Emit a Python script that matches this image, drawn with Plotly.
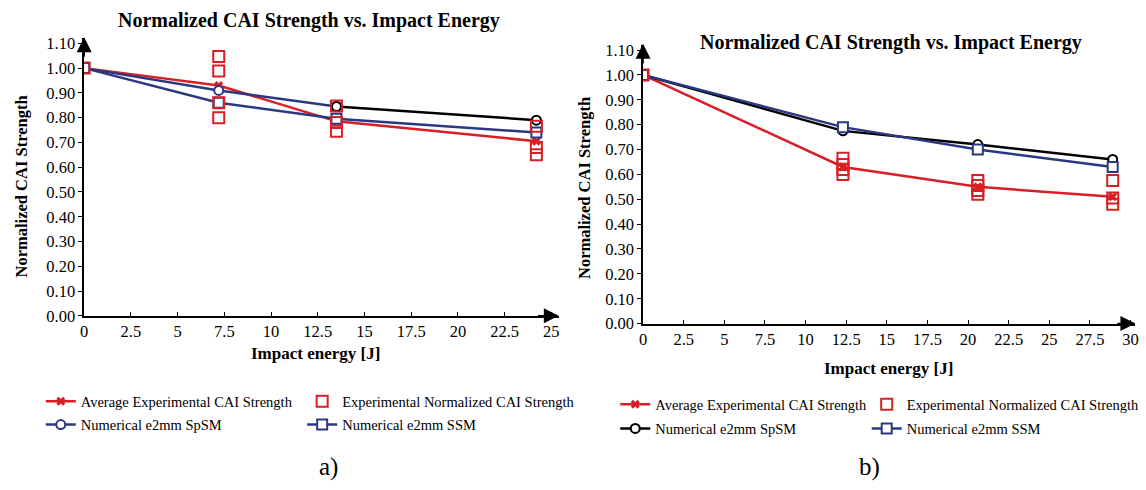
import plotly.graph_objects as go

# ---------------- data ----------------
# a) left panel
energy_a = [0, 7.2, 13.5, 24.2]
avg_a = [1.00, 0.93, 0.785, 0.705]
exp_a_x = [0, 7.2, 7.2, 7.2, 7.2, 13.5, 13.5, 13.5, 24.2, 24.2, 24.2]
exp_a_y = [1.00, 1.047, 0.988, 0.86, 0.80, 0.847, 0.78, 0.745, 0.765, 0.68, 0.65]
spsm_a = [1.00, 0.91, 0.845, 0.79]
ssm_a = [1.00, 0.86, 0.796, 0.74]

# b) right panel
energy_b = [0, 12.3, 20.6, 28.9]
avg_b = [1.00, 0.63, 0.55, 0.51]
exp_b_x = [0, 12.3, 12.3, 12.3, 12.3, 20.6, 20.6, 20.6, 20.6, 28.9, 28.9, 28.9]
exp_b_y = [1.00, 0.665, 0.64, 0.62, 0.60, 0.575, 0.555, 0.535, 0.52, 0.575, 0.505, 0.48]
spsm_b = [1.00, 0.775, 0.72, 0.66]
ssm_b = [1.00, 0.79, 0.70, 0.63]

xticks_a = [0, 2.5, 5, 7.5, 10, 12.5, 15, 17.5, 20, 22.5, 25]
xticks_b = [0, 2.5, 5, 7.5, 10, 12.5, 15, 17.5, 20, 22.5, 25, 27.5, 30]
yticks = [0.0, 0.1, 0.2, 0.3, 0.4, 0.5, 0.6, 0.7, 0.8, 0.9, 1.0, 1.1]

names = ["Average Experimental CAI Strength", "Experimental Normalized CAI Strength",
         "Numerical e2mm SpSM", "Numerical e2mm SSM"]

# ---------------- style ----------------
RED = "rgb(218,30,38)"
NAVY = "rgb(42,56,128)"
BLACK = "rgb(0,0,0)"
FONT = "Liberation Serif, Times New Roman, serif"
W, H = 1146, 490

fig = go.Figure()

def add_panel(xa, ya, energy, avg, ex, ey, spsm, ssm, spsm_col, legs, split_black):
    fig.add_trace(go.Scatter(x=energy, y=avg, mode="lines+markers", name=names[0],
                             line=dict(color=RED, width=2.5),
                             marker=dict(symbol="x", size=8, color=RED, line=dict(width=0)),
                             xaxis=xa, yaxis=ya, legend=legs[0]))
    if split_black:
        fig.add_trace(go.Scatter(x=energy[:3], y=spsm[:3], mode="lines+markers", name=names[2],
                                 line=dict(color=spsm_col, width=2.5),
                                 marker=dict(symbol="circle", size=9, color="white",
                                             line=dict(width=2, color=spsm_col)),
                                 xaxis=xa, yaxis=ya, legend=legs[2]))
        fig.add_trace(go.Scatter(x=energy[2:], y=spsm[2:], mode="lines+markers", name=names[2],
                                 line=dict(color=BLACK, width=2.5),
                                 marker=dict(symbol="circle", size=9, color="white",
                                             line=dict(width=2, color=BLACK)),
                                 xaxis=xa, yaxis=ya, showlegend=False))
    else:
        fig.add_trace(go.Scatter(x=energy, y=spsm, mode="lines+markers", name=names[2],
                                 line=dict(color=spsm_col, width=2.5),
                                 marker=dict(symbol="circle", size=9, color="white",
                                             line=dict(width=2, color=spsm_col)),
                                 xaxis=xa, yaxis=ya, legend=legs[2]))
    fig.add_trace(go.Scatter(x=energy, y=ssm, mode="lines+markers", name=names[3],
                             line=dict(color=NAVY, width=2.5),
                             marker=dict(symbol="square", size=10, color="white",
                                         line=dict(width=2, color=NAVY)),
                             xaxis=xa, yaxis=ya, legend=legs[3]))
    fig.add_trace(go.Scatter(x=ex, y=ey, mode="markers", name=names[1],
                             marker=dict(symbol="square-open", size=11, color=RED,
                                         line=dict(width=2)),
                             xaxis=xa, yaxis=ya, legend=legs[1]))

add_panel("x", "y", energy_a, avg_a, exp_a_x, exp_a_y, spsm_a, ssm_a, NAVY,
          ["legend", "legend2", "legend3", "legend4"], True)
add_panel("x2", "y2", energy_b, avg_b, exp_b_x, exp_b_y, spsm_b, ssm_b, BLACK,
          ["legend5", "legend6", "legend7", "legend8"], False)

axis_common = dict(showline=True, linecolor="black", linewidth=1.5, showgrid=False, zeroline=False,
                   tickfont=dict(family=FONT, size=16.5, color="black"), ticks="outside",
                   ticklen=4, tickcolor="black")

fig.update_layout(
    width=W, height=H, margin=dict(l=0, r=0, t=0, b=0),
    paper_bgcolor="white", plot_bgcolor="white",
    xaxis=dict(axis_common, domain=[80.7 / W, (80.7 + 25.4 * 18.8) / W], range=[0, 25.4],
               tickvals=xticks_a, ticktext=[f"{v:g}" for v in xticks_a], ticks="inside",
               anchor="y"),
    yaxis=dict(axis_common, domain=[1 - 321 / H, 1 - (321 - 1.12 * 255) / H], range=[0, 1.12],
               tickvals=yticks, tickformat=".2f", anchor="x"),
    xaxis2=dict(axis_common, domain=[643 / W, (643 + 30.3 * 16.35) / W], range=[0, 30.3],
                tickvals=xticks_b, ticktext=[f"{v:g}" for v in xticks_b], ticks="inside",
                anchor="y2"),
    yaxis2=dict(axis_common, domain=[1 - 329 / H, 1 - (329 - 1.12 * 256) / H], range=[0, 1.12],
                tickvals=yticks, tickformat=".2f", anchor="x2"),
)

leg_common = dict(orientation="h", font=dict(family=FONT, size=14.5, color="black"),
                  bgcolor="rgba(0,0,0,0)", xanchor="left", yanchor="middle",
                  itemsizing="trace")
leg_pos = {  # legend name: (text start x px, row centre y px)
    "legend": (82, 409), "legend2": (345, 409), "legend3": (82, 433), "legend4": (345, 433),
    "legend5": (660, 412), "legend6": (913, 412), "legend7": (660, 437), "legend8": (913, 437),
}
fig.update_layout(**{k: dict(leg_common, x=(tx - 45) / W, y=1 - ty / H)
                     for k, (tx, ty) in leg_pos.items()})

anns = []
# axis arrows
for xr, yr, xmax in (("x", "y", 25.4), ("x2", "y2", 30.3)):
    anns.append(dict(x=xmax, y=0, ax=xmax - 1.2, ay=0, xref=xr, yref=yr, axref=xr, ayref=yr,
                     showarrow=True, arrowhead=2, arrowsize=2.0, arrowwidth=1.5,
                     arrowcolor="black", text=""))
    anns.append(dict(x=0, y=1.125, ax=0, ay=1.04, xref=xr, yref=yr, axref=xr, ayref=yr,
                     showarrow=True, arrowhead=2, arrowsize=2.0, arrowwidth=1.5,
                     arrowcolor="black", text=""))

def txt(s, x, y, size, bold=False, angle=0):
    anns.append(dict(text=f"<b>{s}</b>" if bold else s, x=x / W, y=1 - y / H,
                     xref="paper", yref="paper", showarrow=False, textangle=angle,
                     xanchor="center", yanchor="middle",
                     font=dict(family=FONT, size=size, color="black")))

title = "Normalized CAI Strength vs. Impact Energy"
txt(title, 307, 17, 20, bold=True)
txt(title, 892, 40, 20, bold=True)
txt("Normalized CAI Strength", 18, 188, 16.5, bold=True, angle=-90)
txt("Normalized CAI Strength", 584, 189, 16.5, bold=True, angle=-90)
txt("Impact energy [J]", 313, 360, 17, bold=True)
txt("Impact energy [J]", 890, 375, 17, bold=True)
txt("a)", 326, 477, 25)
txt("b)", 871, 477, 25)
fig.update_layout(annotations=anns)

fig.write_html("out.html")
